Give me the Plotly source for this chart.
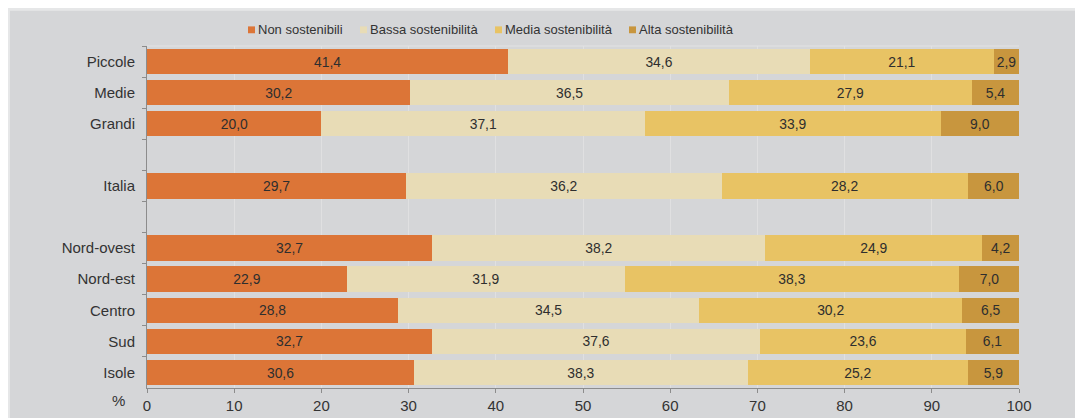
import plotly.graph_objects as go

categorie = ["Piccole", "Medie", "Grandi", " ", "Italia", "  ",
             "Nord-ovest", "Nord-est", "Centro", "Sud", "Isole"]

non_sost = [41.4, 30.2, 20.0, None, 29.7, None, 32.7, 22.9, 28.8, 32.7, 30.6]
bassa = [34.6, 36.5, 37.1, None, 36.2, None, 38.2, 31.9, 34.5, 37.6, 38.3]
media = [21.1, 27.9, 33.9, None, 28.2, None, 24.9, 38.3, 30.2, 23.6, 25.2]
alta = [2.9, 5.4, 9.0, None, 6.0, None, 4.2, 7.0, 6.5, 6.1, 5.9]

serie = [
    ("Non sostenibili", non_sost, "#dc7537"),
    ("Bassa sostenibilità", bassa, "#e8dcb6"),
    ("Media sostenibilità", media, "#e8c364"),
    ("Alta sostenibilità", alta, "#c8963e"),
]

x_ticks = list(range(0, 101, 10))

# area del grafico (pixel della figura)
L, T, PW, PH = 139, 38, 872, 349


def px_x(x):
    return (x - L) / PW


def px_y(y):
    return (T + PH - y) / PH


def fmt(v):
    # decimali con la virgola
    return "" if v is None else f"{v:.1f}".replace(".", ",")


fig = go.Figure()
for nome, valori, colore in serie:
    fig.add_trace(go.Bar(
        y=categorie,
        x=valori,
        name=nome,
        orientation="h",
        marker=dict(color=colore, line=dict(width=0)),
        text=[fmt(v) for v in valori],
        textposition="inside",
        insidetextanchor="middle",
        textangle=0,
        textfont=dict(color="#2e2e2e", size=15),
        width=0.82,
        showlegend=False,
    ))

# legenda costruita a mano (quadratini piccoli e stretti come nell'originale)
shapes = [
    dict(type="rect", xref="paper", yref="paper",
         x0=px_x(2), x1=1.2, y0=-0.2, y1=px_y(2),
         fillcolor="#d5d6d8", line=dict(width=0), layer="below"),
    dict(type="line", xref="paper", yref="paper", x0=0, x1=1, y0=1, y1=1,
         line=dict(color="#e2e3e4", width=1)),
]
annotations = []
leg_x = [240, 352, 487, 621]
for (nome, _, colore), lx in zip(serie, leg_x):
    shapes.append(dict(type="rect", xref="paper", yref="paper",
                       x0=px_x(lx), x1=px_x(lx + 7), y0=px_y(25), y1=px_y(18),
                       fillcolor=colore, line=dict(width=0)))
    annotations.append(dict(text=nome, xref="paper", yref="paper",
                            x=px_x(lx + 8), y=px_y(21.5), xanchor="left",
                            yanchor="middle", showarrow=False,
                            font=dict(size=13, color="#333333")))

annotations.append(dict(text="%", xref="paper", yref="paper",
                        x=px_x(110), y=px_y(400), showarrow=False,
                        xanchor="center", yanchor="middle",
                        font=dict(size=15, color="#333333")))

fig.update_layout(
    barmode="stack",
    width=1083, height=418,
    margin=dict(l=L, r=1083 - L - PW, t=T, b=418 - T - PH),
    paper_bgcolor="#e6e7e8",
    plot_bgcolor="#d5d6d8",
    font=dict(family="Liberation Sans, Arial, sans-serif", size=15, color="#333333"),
    uniformtext=dict(minsize=10, mode="show"),
    shapes=shapes,
    annotations=annotations,
)

fig.update_xaxes(
    range=[0, 100], tickvals=x_ticks, ticks="outside", ticklen=4,
    tickcolor="#8c8c8c", showline=True, linecolor="#8c8c8c", linewidth=1,
    showgrid=True, gridcolor="#e0e0e1", gridwidth=1, zeroline=False,
    tickfont=dict(size=15, color="#333333"),
)
fig.update_yaxes(
    categoryorder="array", categoryarray=categorie, autorange="reversed",
    ticks="outside", tickson="boundaries", ticklen=4, tickcolor="#8c8c8c",
    showline=True, linecolor="#8c8c8c", linewidth=1, showgrid=False,
    tickfont=dict(size=15, color="#333333"), ticklabelstandoff=8,
)

fig.write_html("out.html")
